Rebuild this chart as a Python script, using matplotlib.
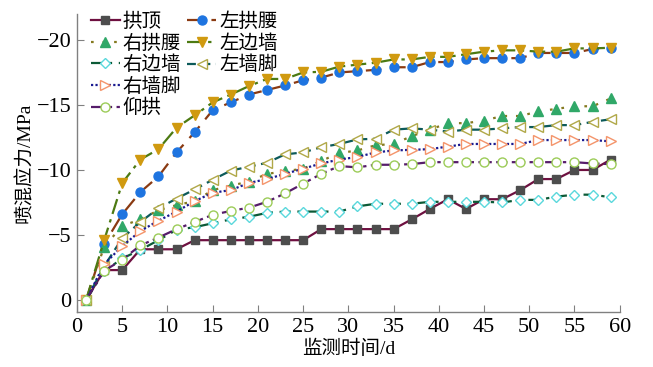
import matplotlib
matplotlib.use('Agg')
import matplotlib.pyplot as plt
from matplotlib.lines import Line2D

fonts = ['Liberation Serif', 'Noto Sans CJK SC']
plt.rcParams['font.family'] = fonts
plt.rcParams['axes.unicode_minus'] = True

# data
days = [1, 3, 5, 7, 9, 11, 13, 15, 17, 19, 21, 23, 25, 27, 29,
        31, 33, 35, 37, 39, 41, 43, 45, 47, 49, 51, 53, 55, 57, 59]

gongding = [0, -2.3, -2.3, -3.9, -3.9, -3.9, -4.6, -4.6, -4.6, -4.6, -4.6, -4.6, -4.6, -5.45, -5.45,
            -5.45, -5.45, -5.45, -6.2, -7.0, -7.75, -7.0, -7.75, -7.75, -8.45, -9.3, -9.3, -10.0, -10.0, -10.8]
zuo_gongyao = [0, -4.3, -6.6, -8.3, -9.5, -11.35, -12.9, -14.6, -15.2, -15.8, -16.15, -16.5, -16.9, -17.1, -17.5,
               -17.6, -17.7, -17.9, -17.9, -18.3, -18.3, -18.5, -18.6, -18.6, -18.6, -19.0, -19.0, -19.0, -19.3, -19.4]
you_gongyao = [0, -4.1, -5.7, -6.2, -6.9, -7.3, -7.6, -8.45, -8.8, -9.1, -9.7, -9.9, -10.1, -10.7, -11.3,
               -11.5, -11.9, -12.0, -12.6, -13.1, -13.6, -13.6, -13.8, -14.15, -14.15, -14.5, -14.7, -14.9, -14.9, -15.5]
zuo_bianqiang = [0, -4.6, -9.0, -10.8, -11.6, -13.25, -14.2, -15.2, -15.8, -16.45, -17.0, -17.0, -17.5, -17.55, -17.95,
                 -18.1, -18.25, -18.5, -18.5, -18.7, -18.7, -18.9, -19.1, -19.2, -19.2, -19.1, -19.1, -19.35, -19.35, -19.4]
you_bianqiang = [0, -2.2, -3.2, -3.85, -4.6, -5.4, -5.6, -5.9, -6.2, -6.4, -6.7, -6.8, -6.8, -6.8, -6.8,
                 -7.2, -7.4, -7.4, -7.4, -7.55, -7.55, -7.55, -7.55, -7.5, -7.7, -7.7, -7.95, -8.1, -8.1, -7.9]
zuo_qiangjiao = [0, -2.6, -4.75, -6.0, -7.05, -7.8, -8.5, -9.25, -9.95, -10.25, -10.55, -11.2, -11.35, -11.75, -12.0,
                 -12.35, -12.4, -13.1, -13.2, -13.1, -12.95, -13.1, -13.1, -13.2, -13.3, -13.3, -13.45, -13.45, -13.7, -13.9]
you_qiangjiao = [0, -2.75, -4.15, -5.3, -6.1, -6.8, -7.6, -8.25, -8.45, -9.0, -9.3, -9.7, -10.1, -10.5, -10.8,
                 -11.0, -11.35, -11.5, -11.55, -11.6, -11.8, -12.0, -12.0, -12.0, -12.0, -12.3, -12.3, -12.3, -12.3, -12.2]
yanggong = [0, -2.25, -3.1, -4.2, -4.8, -5.45, -6.0, -6.55, -6.85, -7.1, -7.55, -8.2, -8.95, -9.7, -10.3,
            -10.2, -10.4, -10.4, -10.45, -10.6, -10.6, -10.6, -10.6, -10.6, -10.6, -10.6, -10.6, -10.6, -10.5, -10.45]

fig = plt.figure(figsize=(6.53, 3.67), dpi=100)
ax = fig.add_axes([0.118, 0.150, 0.831, 0.812])

ms = 6
lw = 1.6
h1, = ax.plot(days, gongding, color='#6e1040', lw=lw, ls='-', marker='s', ms=ms,
              mfc='#4d4d4d', mec='#4d4d4d', label='拱顶')
h2, = ax.plot(days, zuo_gongyao, color='#8a3a12', lw=lw, ls=(0, (7, 4)), marker='o', ms=ms + 0.5,
              mfc='#1e74e0', mec='#1e74e0', label='左拱腰')
h3, = ax.plot(days, you_gongyao, color='#857a20', lw=lw, ls=(0, (1.2, 4)), marker='^', ms=ms + 0.5,
              mfc='#30a868', mec='#30a868', label='右拱腰')
h4, = ax.plot(days, zuo_bianqiang, color='#4c7a12', lw=lw, ls=(0, (7, 2.5, 1.5, 2.5)), marker='v', ms=ms + 0.5,
              mfc='#d09a10', mec='#d09a10', label='左边墙')
h5, = ax.plot(days, you_bianqiang, color='#0c5a36', lw=lw, ls=(0, (5, 3, 1.5, 3)), marker='D', ms=ms - 0.5,
              mfc='white', mec='#5ad8dc', mew=1.0, label='右边墙')
h6, = ax.plot(days, zuo_qiangjiao, color='#0c5a5a', lw=lw, ls=(0, (4, 2.5)), marker='<', ms=ms + 0.5,
              mfc='white', mec='#b0a848', mew=1.0, label='左墙脚')
h7, = ax.plot(days, you_qiangjiao, color='#1a1a90', lw=lw, ls=(0, (1, 1)), marker='>', ms=ms + 0.5,
              mfc='white', mec='#f4946a', mew=1.0, label='右墙脚')
h8, = ax.plot(days, yanggong, color='#561c6a', lw=lw, ls=(0, (6, 2, 1.5, 2, 1.5, 2)), marker='o', ms=ms + 0.5,
              mfc='white', mec='#9ccc58', mew=1.0, label='仰拱')

ax.set_xlim(0, 60)
ax.set_ylim(0.92, -22)
ax.set_xticks(range(0, 61, 5))
ax.set_yticks([0, -5, -10, -15, -20])
ax.set_yticklabels(['0', '\u22125', '\u221210', '\u221215', '\u221220'])

for s in ['top', 'right']:
    ax.spines[s].set_visible(False)
for s in ['left', 'bottom']:
    ax.spines[s].set_color('#808080')
    ax.spines[s].set_linewidth(1.0)
ax.tick_params(direction='in', length=5, color='#808080', labelsize=16, pad=4)
for lbl in ax.get_xticklabels() + ax.get_yticklabels():
    lbl.set_fontfamily(fonts)
    lbl.set_fontsize(16)

ax.set_xlabel('监测时间/d', fontsize=14, labelpad=2, family=fonts)
ax.set_ylabel('喷混应力/MPa', fontsize=14, labelpad=2, family=fonts)

blank = Line2D([], [], ls='none')
handles = [h1, h3, h5, h7, h8, h2, h4, h6, blank, blank]
labels = ['拱顶', '右拱腰', '右边墙', '右墙脚', '仰拱', '左拱腰', '左边墙', '左墙脚', '', '']
ax.legend(handles, labels, ncol=2, loc='upper left', bbox_to_anchor=(0.0, 1.05),
          frameon=False, prop={'family': fonts, 'size': 14}, handlelength=1.5, handletextpad=0.15,
          columnspacing=0.3, labelspacing=0.16, borderaxespad=0.3)

fig.savefig('out.png', dpi=100)
